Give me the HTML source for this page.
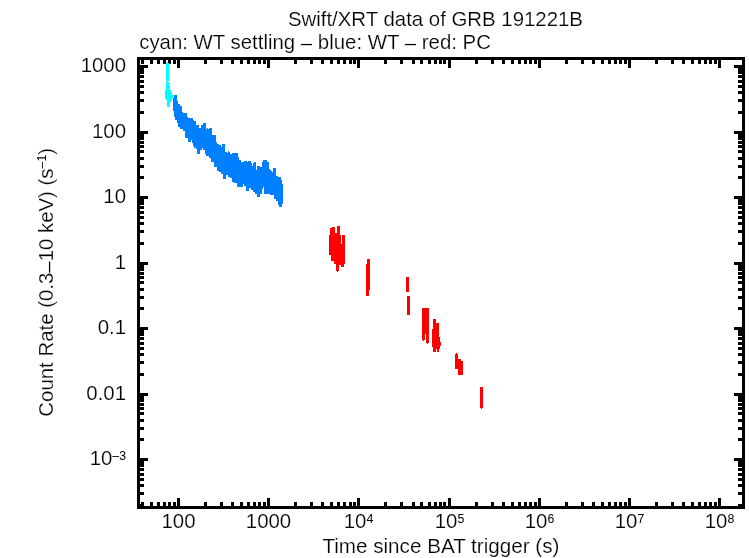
<!DOCTYPE html>
<html><head><meta charset="utf-8"><title>Swift/XRT data of GRB 191221B</title>
<style>
html,body{margin:0;padding:0;background:#fff;}
body{width:749px;height:558px;overflow:hidden;position:relative;}
svg{position:absolute;left:0;top:0;display:block;}
text{font-family:"Liberation Sans",Arial,Helvetica,sans-serif;font-size:20.4px;fill:#000;stroke:#fff;stroke-width:0.2px;}
</style></head><body>
<svg width="749" height="558" viewBox="0 0 749 558">
<rect width="749" height="558" fill="#fff"/>
<g shape-rendering="crispEdges">
<g id="axes">
<rect x="137" y="57" width="608" height="3" fill="#000"/>
<rect x="137" y="506" width="608" height="3" fill="#000"/>
<rect x="137" y="57" width="3" height="452" fill="#000"/>
<rect x="742" y="57" width="3" height="452" fill="#000"/>
<rect x="141" y="60" width="3" height="4" fill="#000"/>
<rect x="141" y="502" width="3" height="4" fill="#000"/>
<rect x="150" y="60" width="3" height="4" fill="#000"/>
<rect x="150" y="502" width="3" height="4" fill="#000"/>
<rect x="157" y="60" width="3" height="4" fill="#000"/>
<rect x="157" y="502" width="3" height="4" fill="#000"/>
<rect x="163" y="60" width="3" height="4" fill="#000"/>
<rect x="163" y="502" width="3" height="4" fill="#000"/>
<rect x="168" y="60" width="3" height="4" fill="#000"/>
<rect x="168" y="502" width="3" height="4" fill="#000"/>
<rect x="173" y="60" width="3" height="4" fill="#000"/>
<rect x="173" y="502" width="3" height="4" fill="#000"/>
<rect x="177" y="60" width="3" height="8" fill="#000"/>
<rect x="177" y="498" width="3" height="8" fill="#000"/>
<rect x="204" y="60" width="3" height="4" fill="#000"/>
<rect x="204" y="502" width="3" height="4" fill="#000"/>
<rect x="220" y="60" width="3" height="4" fill="#000"/>
<rect x="220" y="502" width="3" height="4" fill="#000"/>
<rect x="231" y="60" width="3" height="4" fill="#000"/>
<rect x="231" y="502" width="3" height="4" fill="#000"/>
<rect x="240" y="60" width="3" height="4" fill="#000"/>
<rect x="240" y="502" width="3" height="4" fill="#000"/>
<rect x="247" y="60" width="3" height="4" fill="#000"/>
<rect x="247" y="502" width="3" height="4" fill="#000"/>
<rect x="253" y="60" width="3" height="4" fill="#000"/>
<rect x="253" y="502" width="3" height="4" fill="#000"/>
<rect x="258" y="60" width="3" height="4" fill="#000"/>
<rect x="258" y="502" width="3" height="4" fill="#000"/>
<rect x="263" y="60" width="3" height="4" fill="#000"/>
<rect x="263" y="502" width="3" height="4" fill="#000"/>
<rect x="267" y="60" width="3" height="8" fill="#000"/>
<rect x="267" y="498" width="3" height="8" fill="#000"/>
<rect x="294" y="60" width="3" height="4" fill="#000"/>
<rect x="294" y="502" width="3" height="4" fill="#000"/>
<rect x="310" y="60" width="3" height="4" fill="#000"/>
<rect x="310" y="502" width="3" height="4" fill="#000"/>
<rect x="321" y="60" width="3" height="4" fill="#000"/>
<rect x="321" y="502" width="3" height="4" fill="#000"/>
<rect x="330" y="60" width="3" height="4" fill="#000"/>
<rect x="330" y="502" width="3" height="4" fill="#000"/>
<rect x="337" y="60" width="3" height="4" fill="#000"/>
<rect x="337" y="502" width="3" height="4" fill="#000"/>
<rect x="343" y="60" width="3" height="4" fill="#000"/>
<rect x="343" y="502" width="3" height="4" fill="#000"/>
<rect x="349" y="60" width="3" height="4" fill="#000"/>
<rect x="349" y="502" width="3" height="4" fill="#000"/>
<rect x="353" y="60" width="3" height="4" fill="#000"/>
<rect x="353" y="502" width="3" height="4" fill="#000"/>
<rect x="357" y="60" width="3" height="8" fill="#000"/>
<rect x="357" y="498" width="3" height="8" fill="#000"/>
<rect x="384" y="60" width="3" height="4" fill="#000"/>
<rect x="384" y="502" width="3" height="4" fill="#000"/>
<rect x="400" y="60" width="3" height="4" fill="#000"/>
<rect x="400" y="502" width="3" height="4" fill="#000"/>
<rect x="412" y="60" width="3" height="4" fill="#000"/>
<rect x="412" y="502" width="3" height="4" fill="#000"/>
<rect x="420" y="60" width="3" height="4" fill="#000"/>
<rect x="420" y="502" width="3" height="4" fill="#000"/>
<rect x="428" y="60" width="3" height="4" fill="#000"/>
<rect x="428" y="502" width="3" height="4" fill="#000"/>
<rect x="434" y="60" width="3" height="4" fill="#000"/>
<rect x="434" y="502" width="3" height="4" fill="#000"/>
<rect x="439" y="60" width="3" height="4" fill="#000"/>
<rect x="439" y="502" width="3" height="4" fill="#000"/>
<rect x="443" y="60" width="3" height="4" fill="#000"/>
<rect x="443" y="502" width="3" height="4" fill="#000"/>
<rect x="448" y="60" width="3" height="8" fill="#000"/>
<rect x="448" y="498" width="3" height="8" fill="#000"/>
<rect x="475" y="60" width="3" height="4" fill="#000"/>
<rect x="475" y="502" width="3" height="4" fill="#000"/>
<rect x="491" y="60" width="3" height="4" fill="#000"/>
<rect x="491" y="502" width="3" height="4" fill="#000"/>
<rect x="502" y="60" width="3" height="4" fill="#000"/>
<rect x="502" y="502" width="3" height="4" fill="#000"/>
<rect x="511" y="60" width="3" height="4" fill="#000"/>
<rect x="511" y="502" width="3" height="4" fill="#000"/>
<rect x="518" y="60" width="3" height="4" fill="#000"/>
<rect x="518" y="502" width="3" height="4" fill="#000"/>
<rect x="524" y="60" width="3" height="4" fill="#000"/>
<rect x="524" y="502" width="3" height="4" fill="#000"/>
<rect x="529" y="60" width="3" height="4" fill="#000"/>
<rect x="529" y="502" width="3" height="4" fill="#000"/>
<rect x="534" y="60" width="3" height="4" fill="#000"/>
<rect x="534" y="502" width="3" height="4" fill="#000"/>
<rect x="538" y="60" width="3" height="8" fill="#000"/>
<rect x="538" y="498" width="3" height="8" fill="#000"/>
<rect x="565" y="60" width="3" height="4" fill="#000"/>
<rect x="565" y="502" width="3" height="4" fill="#000"/>
<rect x="581" y="60" width="3" height="4" fill="#000"/>
<rect x="581" y="502" width="3" height="4" fill="#000"/>
<rect x="592" y="60" width="3" height="4" fill="#000"/>
<rect x="592" y="502" width="3" height="4" fill="#000"/>
<rect x="601" y="60" width="3" height="4" fill="#000"/>
<rect x="601" y="502" width="3" height="4" fill="#000"/>
<rect x="608" y="60" width="3" height="4" fill="#000"/>
<rect x="608" y="502" width="3" height="4" fill="#000"/>
<rect x="614" y="60" width="3" height="4" fill="#000"/>
<rect x="614" y="502" width="3" height="4" fill="#000"/>
<rect x="619" y="60" width="3" height="4" fill="#000"/>
<rect x="619" y="502" width="3" height="4" fill="#000"/>
<rect x="624" y="60" width="3" height="4" fill="#000"/>
<rect x="624" y="502" width="3" height="4" fill="#000"/>
<rect x="628" y="60" width="3" height="8" fill="#000"/>
<rect x="628" y="498" width="3" height="8" fill="#000"/>
<rect x="655" y="60" width="3" height="4" fill="#000"/>
<rect x="655" y="502" width="3" height="4" fill="#000"/>
<rect x="671" y="60" width="3" height="4" fill="#000"/>
<rect x="671" y="502" width="3" height="4" fill="#000"/>
<rect x="682" y="60" width="3" height="4" fill="#000"/>
<rect x="682" y="502" width="3" height="4" fill="#000"/>
<rect x="691" y="60" width="3" height="4" fill="#000"/>
<rect x="691" y="502" width="3" height="4" fill="#000"/>
<rect x="698" y="60" width="3" height="4" fill="#000"/>
<rect x="698" y="502" width="3" height="4" fill="#000"/>
<rect x="704" y="60" width="3" height="4" fill="#000"/>
<rect x="704" y="502" width="3" height="4" fill="#000"/>
<rect x="709" y="60" width="3" height="4" fill="#000"/>
<rect x="709" y="502" width="3" height="4" fill="#000"/>
<rect x="714" y="60" width="3" height="4" fill="#000"/>
<rect x="714" y="502" width="3" height="4" fill="#000"/>
<rect x="718" y="60" width="3" height="8" fill="#000"/>
<rect x="718" y="498" width="3" height="8" fill="#000"/>
<rect x="140" y="504" width="4" height="3" fill="#000"/>
<rect x="738" y="504" width="4" height="3" fill="#000"/>
<rect x="140" y="492" width="4" height="3" fill="#000"/>
<rect x="738" y="492" width="4" height="3" fill="#000"/>
<rect x="140" y="484" width="4" height="3" fill="#000"/>
<rect x="738" y="484" width="4" height="3" fill="#000"/>
<rect x="140" y="478" width="4" height="3" fill="#000"/>
<rect x="738" y="478" width="4" height="3" fill="#000"/>
<rect x="140" y="473" width="4" height="3" fill="#000"/>
<rect x="738" y="473" width="4" height="3" fill="#000"/>
<rect x="140" y="468" width="4" height="3" fill="#000"/>
<rect x="738" y="468" width="4" height="3" fill="#000"/>
<rect x="140" y="464" width="4" height="3" fill="#000"/>
<rect x="738" y="464" width="4" height="3" fill="#000"/>
<rect x="140" y="461" width="4" height="3" fill="#000"/>
<rect x="738" y="461" width="4" height="3" fill="#000"/>
<rect x="140" y="458" width="8" height="3" fill="#000"/>
<rect x="734" y="458" width="8" height="3" fill="#000"/>
<rect x="140" y="438" width="4" height="3" fill="#000"/>
<rect x="738" y="438" width="4" height="3" fill="#000"/>
<rect x="140" y="427" width="4" height="3" fill="#000"/>
<rect x="738" y="427" width="4" height="3" fill="#000"/>
<rect x="140" y="419" width="4" height="3" fill="#000"/>
<rect x="738" y="419" width="4" height="3" fill="#000"/>
<rect x="140" y="412" width="4" height="3" fill="#000"/>
<rect x="738" y="412" width="4" height="3" fill="#000"/>
<rect x="140" y="407" width="4" height="3" fill="#000"/>
<rect x="738" y="407" width="4" height="3" fill="#000"/>
<rect x="140" y="403" width="4" height="3" fill="#000"/>
<rect x="738" y="403" width="4" height="3" fill="#000"/>
<rect x="140" y="399" width="4" height="3" fill="#000"/>
<rect x="738" y="399" width="4" height="3" fill="#000"/>
<rect x="140" y="396" width="4" height="3" fill="#000"/>
<rect x="738" y="396" width="4" height="3" fill="#000"/>
<rect x="140" y="393" width="8" height="3" fill="#000"/>
<rect x="734" y="393" width="8" height="3" fill="#000"/>
<rect x="140" y="373" width="4" height="3" fill="#000"/>
<rect x="738" y="373" width="4" height="3" fill="#000"/>
<rect x="140" y="361" width="4" height="3" fill="#000"/>
<rect x="738" y="361" width="4" height="3" fill="#000"/>
<rect x="140" y="353" width="4" height="3" fill="#000"/>
<rect x="738" y="353" width="4" height="3" fill="#000"/>
<rect x="140" y="347" width="4" height="3" fill="#000"/>
<rect x="738" y="347" width="4" height="3" fill="#000"/>
<rect x="140" y="342" width="4" height="3" fill="#000"/>
<rect x="738" y="342" width="4" height="3" fill="#000"/>
<rect x="140" y="337" width="4" height="3" fill="#000"/>
<rect x="738" y="337" width="4" height="3" fill="#000"/>
<rect x="140" y="333" width="4" height="3" fill="#000"/>
<rect x="738" y="333" width="4" height="3" fill="#000"/>
<rect x="140" y="330" width="4" height="3" fill="#000"/>
<rect x="738" y="330" width="4" height="3" fill="#000"/>
<rect x="140" y="327" width="8" height="3" fill="#000"/>
<rect x="734" y="327" width="8" height="3" fill="#000"/>
<rect x="140" y="307" width="4" height="3" fill="#000"/>
<rect x="738" y="307" width="4" height="3" fill="#000"/>
<rect x="140" y="296" width="4" height="3" fill="#000"/>
<rect x="738" y="296" width="4" height="3" fill="#000"/>
<rect x="140" y="288" width="4" height="3" fill="#000"/>
<rect x="738" y="288" width="4" height="3" fill="#000"/>
<rect x="140" y="281" width="4" height="3" fill="#000"/>
<rect x="738" y="281" width="4" height="3" fill="#000"/>
<rect x="140" y="276" width="4" height="3" fill="#000"/>
<rect x="738" y="276" width="4" height="3" fill="#000"/>
<rect x="140" y="272" width="4" height="3" fill="#000"/>
<rect x="738" y="272" width="4" height="3" fill="#000"/>
<rect x="140" y="268" width="4" height="3" fill="#000"/>
<rect x="738" y="268" width="4" height="3" fill="#000"/>
<rect x="140" y="265" width="4" height="3" fill="#000"/>
<rect x="738" y="265" width="4" height="3" fill="#000"/>
<rect x="140" y="262" width="8" height="3" fill="#000"/>
<rect x="734" y="262" width="8" height="3" fill="#000"/>
<rect x="140" y="242" width="4" height="3" fill="#000"/>
<rect x="738" y="242" width="4" height="3" fill="#000"/>
<rect x="140" y="230" width="4" height="3" fill="#000"/>
<rect x="738" y="230" width="4" height="3" fill="#000"/>
<rect x="140" y="222" width="4" height="3" fill="#000"/>
<rect x="738" y="222" width="4" height="3" fill="#000"/>
<rect x="140" y="216" width="4" height="3" fill="#000"/>
<rect x="738" y="216" width="4" height="3" fill="#000"/>
<rect x="140" y="211" width="4" height="3" fill="#000"/>
<rect x="738" y="211" width="4" height="3" fill="#000"/>
<rect x="140" y="206" width="4" height="3" fill="#000"/>
<rect x="738" y="206" width="4" height="3" fill="#000"/>
<rect x="140" y="202" width="4" height="3" fill="#000"/>
<rect x="738" y="202" width="4" height="3" fill="#000"/>
<rect x="140" y="199" width="4" height="3" fill="#000"/>
<rect x="738" y="199" width="4" height="3" fill="#000"/>
<rect x="140" y="196" width="8" height="3" fill="#000"/>
<rect x="734" y="196" width="8" height="3" fill="#000"/>
<rect x="140" y="176" width="4" height="3" fill="#000"/>
<rect x="738" y="176" width="4" height="3" fill="#000"/>
<rect x="140" y="165" width="4" height="3" fill="#000"/>
<rect x="738" y="165" width="4" height="3" fill="#000"/>
<rect x="140" y="157" width="4" height="3" fill="#000"/>
<rect x="738" y="157" width="4" height="3" fill="#000"/>
<rect x="140" y="150" width="4" height="3" fill="#000"/>
<rect x="738" y="150" width="4" height="3" fill="#000"/>
<rect x="140" y="145" width="4" height="3" fill="#000"/>
<rect x="738" y="145" width="4" height="3" fill="#000"/>
<rect x="140" y="141" width="4" height="3" fill="#000"/>
<rect x="738" y="141" width="4" height="3" fill="#000"/>
<rect x="140" y="137" width="4" height="3" fill="#000"/>
<rect x="738" y="137" width="4" height="3" fill="#000"/>
<rect x="140" y="134" width="4" height="3" fill="#000"/>
<rect x="738" y="134" width="4" height="3" fill="#000"/>
<rect x="140" y="131" width="8" height="3" fill="#000"/>
<rect x="734" y="131" width="8" height="3" fill="#000"/>
<rect x="140" y="111" width="4" height="3" fill="#000"/>
<rect x="738" y="111" width="4" height="3" fill="#000"/>
<rect x="140" y="99" width="4" height="3" fill="#000"/>
<rect x="738" y="99" width="4" height="3" fill="#000"/>
<rect x="140" y="91" width="4" height="3" fill="#000"/>
<rect x="738" y="91" width="4" height="3" fill="#000"/>
<rect x="140" y="85" width="4" height="3" fill="#000"/>
<rect x="738" y="85" width="4" height="3" fill="#000"/>
<rect x="140" y="80" width="4" height="3" fill="#000"/>
<rect x="738" y="80" width="4" height="3" fill="#000"/>
<rect x="140" y="75" width="4" height="3" fill="#000"/>
<rect x="738" y="75" width="4" height="3" fill="#000"/>
<rect x="140" y="71" width="4" height="3" fill="#000"/>
<rect x="738" y="71" width="4" height="3" fill="#000"/>
<rect x="140" y="68" width="4" height="3" fill="#000"/>
<rect x="738" y="68" width="4" height="3" fill="#000"/>
<rect x="140" y="65" width="8" height="3" fill="#000"/>
<rect x="734" y="65" width="8" height="3" fill="#000"/>
</g>
<g id="data-wt">
<rect x="173" y="98" width="1" height="13" fill="#0080ff"/>
<rect x="174" y="95" width="1" height="22" fill="#0080ff"/>
<rect x="175" y="95" width="1" height="25" fill="#0080ff"/>
<rect x="176" y="95" width="1" height="25" fill="#0080ff"/>
<rect x="177" y="101" width="1" height="22" fill="#0080ff"/>
<rect x="178" y="104" width="1" height="23" fill="#0080ff"/>
<rect x="179" y="104" width="1" height="23" fill="#0080ff"/>
<rect x="180" y="106" width="1" height="23" fill="#0080ff"/>
<rect x="181" y="106" width="1" height="23" fill="#0080ff"/>
<rect x="182" y="112" width="1" height="17" fill="#0080ff"/>
<rect x="183" y="113" width="1" height="18" fill="#0080ff"/>
<rect x="184" y="113" width="1" height="18" fill="#0080ff"/>
<rect x="185" y="113" width="1" height="25" fill="#0080ff"/>
<rect x="186" y="113" width="1" height="25" fill="#0080ff"/>
<rect x="187" y="117" width="1" height="21" fill="#0080ff"/>
<rect x="188" y="118" width="1" height="24" fill="#0080ff"/>
<rect x="189" y="118" width="1" height="24" fill="#0080ff"/>
<rect x="190" y="118" width="1" height="24" fill="#0080ff"/>
<rect x="191" y="118" width="1" height="22" fill="#0080ff"/>
<rect x="192" y="118" width="1" height="25" fill="#0080ff"/>
<rect x="193" y="120" width="1" height="26" fill="#0080ff"/>
<rect x="194" y="121" width="1" height="27" fill="#0080ff"/>
<rect x="195" y="121" width="1" height="27" fill="#0080ff"/>
<rect x="196" y="125" width="1" height="24" fill="#0080ff"/>
<rect x="197" y="125" width="1" height="29" fill="#0080ff"/>
<rect x="198" y="125" width="1" height="29" fill="#0080ff"/>
<rect x="199" y="128" width="1" height="26" fill="#0080ff"/>
<rect x="200" y="128" width="1" height="22" fill="#0080ff"/>
<rect x="201" y="125" width="1" height="25" fill="#0080ff"/>
<rect x="202" y="125" width="1" height="23" fill="#0080ff"/>
<rect x="203" y="123" width="1" height="27" fill="#0080ff"/>
<rect x="204" y="123" width="1" height="27" fill="#0080ff"/>
<rect x="205" y="123" width="1" height="31" fill="#0080ff"/>
<rect x="206" y="129" width="1" height="27" fill="#0080ff"/>
<rect x="207" y="128" width="1" height="28" fill="#0080ff"/>
<rect x="208" y="129" width="1" height="27" fill="#0080ff"/>
<rect x="209" y="128" width="1" height="30" fill="#0080ff"/>
<rect x="210" y="128" width="1" height="30" fill="#0080ff"/>
<rect x="211" y="128" width="1" height="34" fill="#0080ff"/>
<rect x="212" y="135" width="1" height="27" fill="#0080ff"/>
<rect x="213" y="135" width="1" height="27" fill="#0080ff"/>
<rect x="214" y="135" width="1" height="32" fill="#0080ff"/>
<rect x="215" y="135" width="1" height="32" fill="#0080ff"/>
<rect x="216" y="142" width="1" height="25" fill="#0080ff"/>
<rect x="217" y="144" width="1" height="27" fill="#0080ff"/>
<rect x="218" y="144" width="1" height="27" fill="#0080ff"/>
<rect x="219" y="145" width="1" height="27" fill="#0080ff"/>
<rect x="220" y="145" width="1" height="27" fill="#0080ff"/>
<rect x="221" y="147" width="1" height="27" fill="#0080ff"/>
<rect x="222" y="144" width="1" height="30" fill="#0080ff"/>
<rect x="223" y="144" width="1" height="35" fill="#0080ff"/>
<rect x="224" y="144" width="1" height="35" fill="#0080ff"/>
<rect x="225" y="152" width="1" height="27" fill="#0080ff"/>
<rect x="226" y="152" width="1" height="23" fill="#0080ff"/>
<rect x="227" y="153" width="1" height="22" fill="#0080ff"/>
<rect x="228" y="151" width="1" height="26" fill="#0080ff"/>
<rect x="229" y="152" width="1" height="25" fill="#0080ff"/>
<rect x="230" y="154" width="1" height="24" fill="#0080ff"/>
<rect x="231" y="154" width="1" height="24" fill="#0080ff"/>
<rect x="232" y="153" width="1" height="29" fill="#0080ff"/>
<rect x="233" y="153" width="1" height="29" fill="#0080ff"/>
<rect x="234" y="153" width="1" height="30" fill="#0080ff"/>
<rect x="235" y="153" width="1" height="30" fill="#0080ff"/>
<rect x="236" y="153" width="1" height="30" fill="#0080ff"/>
<rect x="237" y="153" width="1" height="34" fill="#0080ff"/>
<rect x="238" y="157" width="1" height="30" fill="#0080ff"/>
<rect x="239" y="160" width="1" height="27" fill="#0080ff"/>
<rect x="240" y="160" width="1" height="27" fill="#0080ff"/>
<rect x="241" y="162" width="1" height="25" fill="#0080ff"/>
<rect x="242" y="162" width="1" height="25" fill="#0080ff"/>
<rect x="243" y="162" width="1" height="22" fill="#0080ff"/>
<rect x="244" y="161" width="1" height="25" fill="#0080ff"/>
<rect x="245" y="161" width="1" height="25" fill="#0080ff"/>
<rect x="246" y="161" width="1" height="30" fill="#0080ff"/>
<rect x="247" y="162" width="1" height="29" fill="#0080ff"/>
<rect x="248" y="161" width="1" height="30" fill="#0080ff"/>
<rect x="249" y="161" width="1" height="27" fill="#0080ff"/>
<rect x="250" y="161" width="1" height="27" fill="#0080ff"/>
<rect x="251" y="163" width="1" height="27" fill="#0080ff"/>
<rect x="252" y="166" width="1" height="24" fill="#0080ff"/>
<rect x="253" y="163" width="1" height="29" fill="#0080ff"/>
<rect x="254" y="162" width="1" height="30" fill="#0080ff"/>
<rect x="255" y="162" width="1" height="32" fill="#0080ff"/>
<rect x="256" y="170" width="1" height="24" fill="#0080ff"/>
<rect x="257" y="166" width="1" height="31" fill="#0080ff"/>
<rect x="258" y="166" width="1" height="31" fill="#0080ff"/>
<rect x="259" y="166" width="1" height="31" fill="#0080ff"/>
<rect x="260" y="167" width="1" height="27" fill="#0080ff"/>
<rect x="261" y="167" width="1" height="27" fill="#0080ff"/>
<rect x="262" y="162" width="1" height="27" fill="#0080ff"/>
<rect x="263" y="160" width="1" height="27" fill="#0080ff"/>
<rect x="264" y="160" width="1" height="34" fill="#0080ff"/>
<rect x="265" y="160" width="1" height="34" fill="#0080ff"/>
<rect x="266" y="160" width="1" height="34" fill="#0080ff"/>
<rect x="267" y="162" width="1" height="32" fill="#0080ff"/>
<rect x="268" y="162" width="1" height="32" fill="#0080ff"/>
<rect x="269" y="169" width="1" height="25" fill="#0080ff"/>
<rect x="270" y="170" width="1" height="25" fill="#0080ff"/>
<rect x="271" y="171" width="1" height="24" fill="#0080ff"/>
<rect x="272" y="172" width="1" height="23" fill="#0080ff"/>
<rect x="273" y="168" width="1" height="27" fill="#0080ff"/>
<rect x="274" y="168" width="1" height="31" fill="#0080ff"/>
<rect x="275" y="168" width="1" height="31" fill="#0080ff"/>
<rect x="276" y="176" width="1" height="25" fill="#0080ff"/>
<rect x="277" y="176" width="1" height="25" fill="#0080ff"/>
<rect x="278" y="177" width="1" height="28" fill="#0080ff"/>
<rect x="279" y="177" width="1" height="30" fill="#0080ff"/>
<rect x="280" y="177" width="1" height="30" fill="#0080ff"/>
<rect x="281" y="180" width="1" height="27" fill="#0080ff"/>
<rect x="282" y="184" width="1" height="20" fill="#0080ff"/>
</g>
<g id="data-settling">
<rect x="167" y="62" width="1" height="1" fill="#00ffff"/>
<rect x="166" y="63" width="3" height="18" fill="#00ffff"/>
<rect x="167" y="81" width="1" height="1" fill="#00ffff"/>
<rect x="166" y="82" width="3" height="3" fill="#00ffff"/>
<rect x="166" y="85" width="4" height="5" fill="#00ffff"/>
<rect x="165" y="90" width="6" height="2" fill="#00ffff"/>
<rect x="165" y="92" width="7" height="3" fill="#00ffff"/>
<rect x="165" y="95" width="8" height="4" fill="#00ffff"/>
<rect x="166" y="99" width="6" height="1" fill="#00ffff"/>
<rect x="167" y="100" width="4" height="2" fill="#00ffff"/>
<rect x="167" y="102" width="3" height="5" fill="#00ffff"/>
</g>
<g id="data-pc">
<rect x="329" y="235" width="1" height="20" fill="#ff0000"/>
<rect x="330" y="228" width="1" height="27" fill="#ff0000"/>
<rect x="331" y="228" width="1" height="33" fill="#ff0000"/>
<rect x="332" y="227" width="1" height="34" fill="#ff0000"/>
<rect x="333" y="227" width="1" height="34" fill="#ff0000"/>
<rect x="334" y="227" width="1" height="37" fill="#ff0000"/>
<rect x="335" y="233" width="1" height="31" fill="#ff0000"/>
<rect x="336" y="233" width="1" height="38" fill="#ff0000"/>
<rect x="337" y="226" width="1" height="46" fill="#ff0000"/>
<rect x="338" y="226" width="1" height="45" fill="#ff0000"/>
<rect x="339" y="226" width="1" height="39" fill="#ff0000"/>
<rect x="340" y="235" width="1" height="30" fill="#ff0000"/>
<rect x="341" y="244" width="1" height="23" fill="#ff0000"/>
<rect x="342" y="235" width="1" height="32" fill="#ff0000"/>
<rect x="343" y="235" width="1" height="32" fill="#ff0000"/>
<rect x="344" y="235" width="1" height="29" fill="#ff0000"/>
<rect x="367" y="259" width="3" height="31" fill="#ff0000"/>
<rect x="366" y="264" width="3" height="32" fill="#ff0000"/>
<rect x="406" y="277" width="3" height="15" fill="#ff0000"/>
<rect x="407" y="296" width="3" height="19" fill="#ff0000"/>
<rect x="422" y="308" width="3" height="32" fill="#ff0000"/>
<rect x="423" y="340" width="1" height="1" fill="#ff0000"/>
<rect x="425" y="308" width="1" height="26" fill="#ff0000"/>
<rect x="426" y="308" width="3" height="35" fill="#ff0000"/>
<rect x="427" y="343" width="1" height="1" fill="#ff0000"/>
<rect x="432" y="329" width="1" height="18" fill="#ff0000"/>
<rect x="433" y="319" width="1" height="33" fill="#ff0000"/>
<rect x="434" y="319" width="1" height="33" fill="#ff0000"/>
<rect x="435" y="319" width="1" height="33" fill="#ff0000"/>
<rect x="436" y="323" width="1" height="26" fill="#ff0000"/>
<rect x="437" y="323" width="1" height="29" fill="#ff0000"/>
<rect x="438" y="323" width="1" height="29" fill="#ff0000"/>
<rect x="439" y="337" width="1" height="12" fill="#ff0000"/>
<rect x="440" y="342" width="1" height="4" fill="#ff0000"/>
<rect x="456" y="353" width="1" height="1" fill="#ff0000"/>
<rect x="455" y="354" width="3" height="15" fill="#ff0000"/>
<rect x="458" y="359" width="3" height="16" fill="#ff0000"/>
<rect x="461" y="361" width="2" height="14" fill="#ff0000"/>
<rect x="480" y="387" width="3" height="21" fill="#ff0000"/>
<rect x="481" y="408" width="1" height="1" fill="#ff0000"/>
</g>
</g>
<g id="labels">
<text x="287.9" y="25.6" text-anchor="start">Swift/XRT data of GRB 191221B</text>
<text x="139.2" y="49.0" text-anchor="start">cyan: WT settling <tspan dy="1.2">–</tspan><tspan dy="-1.2"> blue: WT </tspan><tspan dy="1.2">–</tspan><tspan dy="-1.2"> red: PC</tspan></text>
<text x="440.9" y="552.5" text-anchor="middle" style="font-size:20.65px">Time since BAT trigger (s)</text>
<text transform="translate(53.3,282.3) rotate(-90)" text-anchor="middle">Count Rate (0.3<tspan dy="1.2">–</tspan><tspan dy="-1.2">10 keV) (s</tspan><tspan dy="-7.2" font-size="12.3" stroke="none">–1</tspan><tspan dy="7.2">)</tspan></text>
<text x="178.5" y="528.4" text-anchor="middle">100</text>
<text x="268.5" y="528.4" text-anchor="middle">1000</text>
<text x="358.5" y="528.4" text-anchor="middle">10<tspan dy="-5.2" font-size="12.3" stroke="none">4</tspan></text>
<text x="449.5" y="528.4" text-anchor="middle">10<tspan dy="-5.2" font-size="12.3" stroke="none">5</tspan></text>
<text x="539.5" y="528.4" text-anchor="middle">10<tspan dy="-5.2" font-size="12.3" stroke="none">6</tspan></text>
<text x="629.5" y="528.4" text-anchor="middle">10<tspan dy="-5.2" font-size="12.3" stroke="none">7</tspan></text>
<text x="719.5" y="528.4" text-anchor="middle">10<tspan dy="-5.2" font-size="12.3" stroke="none">8</tspan></text>
<text x="126" y="71.9" text-anchor="end">1000</text>
<text x="126" y="137.9" text-anchor="end">100</text>
<text x="126" y="202.9" text-anchor="end">10</text>
<text x="126" y="268.9" text-anchor="end">1</text>
<text x="126" y="333.9" text-anchor="end">0.1</text>
<text x="126" y="399.9" text-anchor="end">0.01</text>
<text x="126" y="464.9" text-anchor="end">10<tspan dy="-5.2" font-size="12.3" stroke="none">–3</tspan></text>
</g>
</svg>
</body></html>
